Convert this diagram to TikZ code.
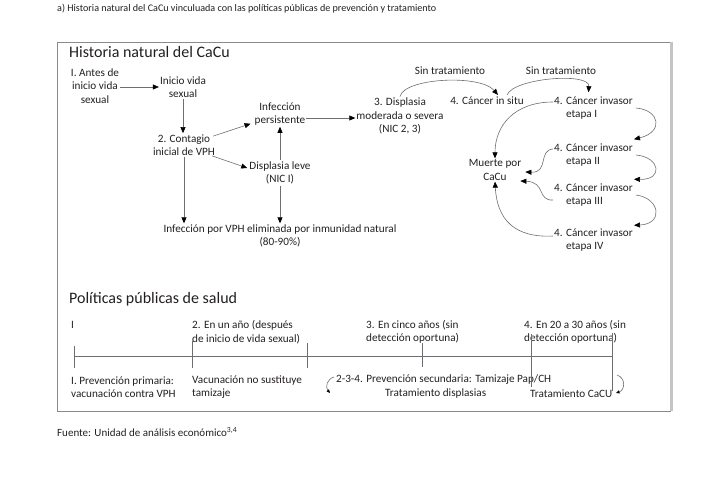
\documentclass[tikz,border=0pt]{standalone}
\usepackage{fontspec}
\setmainfont{Carlito}
\usetikzlibrary{arrows.meta,calc}
\definecolor{lncol}{HTML}{6D6E71}
\definecolor{frcol}{HTML}{8A8A8A}
\definecolor{frscol}{HTML}{C4C4C4}
\definecolor{txcol}{HTML}{231F20}
\begin{document}
\begin{tikzpicture}[x=1pt,y=-1pt,
  txt/.style={font=\fontsize{11.2}{13.6}\selectfont, text=txcol, align=center, inner sep=1pt},
  ltxt/.style={txt, align=left},
  head/.style={font=\fontsize{16}{18}\selectfont, text=txcol, inner sep=0pt, anchor=west},
  arr/.style={draw=lncol, line width=0.6pt, -{Triangle[length=6pt,width=5pt,color=black]}},
  sarr/.style={draw=lncol, line width=0.6pt, -{Triangle[length=3.5pt,width=3pt,color=black]}},
  tline/.style={draw=lncol, line width=0.6pt}]
\useasboundingbox (0,0) rectangle (720,479);

% caption and source
\node[anchor=west, inner sep=0pt, font=\fontsize{10.1}{12}\selectfont, text=txcol] (cap) at (57,9)
  {a) Historia natural del CaCu vinculuada con las políticas públicas de prevención y tratamiento};
\node[anchor=west, inner sep=0pt, font=\fontsize{11}{12}\selectfont, text=txcol] (src) at (57,432)
  {Fuente: Unidad de análisis económico\textsuperscript{3,4}};

% frame
\draw[frcol, line width=0.8pt] (57,42) rectangle (670,411);
\draw[frscol, line width=3pt] (671.5,41.6) -- (671.5,411.4);

% ---------- Historia natural ----------
\node[head] (h1) at (69,52) {Historia natural del CaCu};

\node[txt] (n1) at (95,86) {I. Antes de\\inicio vida\\sexual};
\node[txt] (n2) at (183,87) {Inicio vida\\sexual};
\node[txt] (n3) at (184,145) {2. Contagio\\inicial de VPH};
\node[txt] (n4) at (280,114) {Infección\\persistente};
\node[txt] (n5) at (280,173) {Displasia leve\\(NIC I)};
\node[txt] (n6) at (400,116) {3. Displasia\\moderada o severa\\(NIC 2, 3)};
\node[txt] (n7) at (280,236) {Infección por VPH eliminada por inmunidad natural\\(80-90\%)};
\node[txt] (n8) at (487,101) {4. Cáncer in situ};
\node[txt] (st1) at (450,71) {Sin tratamiento};
\node[txt] (st2) at (561,71) {Sin tratamiento};
\node[ltxt, anchor=west] (e1) at (553,108) {4. Cáncer invasor\\\phantom{4. }etapa I};
\node[ltxt, anchor=west] (e2) at (553,155) {4. Cáncer invasor\\\phantom{4. }etapa II};
\node[ltxt, anchor=west] (e3) at (553,195) {4. Cáncer invasor\\\phantom{4. }etapa III};
\node[ltxt, anchor=west] (e4) at (553,240) {4. Cáncer invasor\\\phantom{4. }etapa IV};
\node[txt] (m) at (495,170) {Muerte por\\CaCu};

\coordinate (n1e) at ($(n1.east)+(0,1)$);
\draw[arr] (n1e) -- (n1e -| n2.west);
\draw[arr] (n2.south) -- (n2.south |- n3.north);
\draw[arr] ($(n3.north east)+(-3,3)$) -- ($(n4.south west)+(-3,-3)$);
\draw[arr] ($(n3.south east)+(-4,-1)$) -- ($(n5.west)+(-1,-5)$);
\draw[arr] (n5.north) -- (n4.south);
\coordinate (n4e) at ($(n4.east)+(0,4)$);
\draw[arr] (n4e) -- (n4e -| n6.west);
\draw[arr] (n3.south) -- (n3.south |- n7.north);
\draw[arr] (n5.south) -- (n5.south |- n7.north);

\draw[arr] (n6.north) .. controls (404,78) and (480,74) .. ($(n8.north)+(11,-1)$);
\draw[arr] ($(n8.north)+(20,-1)$) .. controls (514,78) and (590,72) .. ($(e1.north)+(-5,-3)$);

\draw[arr] ($(e1.west)+(0,-6)$) .. controls (515,102) and (495,125) .. (m.north);
\draw[arr] ($(e2.west)+(0,-6)$) .. controls (538,150) and (549,173) .. ($(m.east)+(3,2)$);
\draw[arr] ($(e3.west)+(0,5)$) .. controls (537,201) and (546,182) .. ($(m.east)+(-2,11)$);
\draw[arr] ($(e4.west)+(0,-4)$) .. controls (515,238) and (497,220) .. (m.south);

\draw[arr] ($(e1.east)+(2,0)$) .. controls (660,110) and (664,132) .. ($(e2.north east)+(0,-3)$);
\draw[arr] ($(e2.east)+(2,0)$) .. controls (660,157) and (664,180) .. ($(e3.north east)+(0,-3)$);
\draw[arr] ($(e3.east)+(2,0)$) .. controls (660,198) and (664,224) .. ($(e4.north east)+(0,-2)$);

% ---------- Políticas públicas ----------
\node[head] (h2) at (69,299) {Políticas públicas de salud};

\node[ltxt, anchor=west] (t1) at (70,325) {I};
\node[ltxt, anchor=west] (t2) at (191,332) {2. En un año (después\\de inicio de vida sexual)};
\node[ltxt, anchor=west] (t3) at (365,332) {3. En cinco años (sin\\detección oportuna)};
\node[ltxt, anchor=west] (t4) at (523,332) {4. En 20 a 30 años (sin\\detección oportuna)};

\node[ltxt, anchor=west] (b1) at (70,387) {I. Prevención primaria:\\vacunación contra VPH};
\node[ltxt, anchor=west] (b2) at (191,387) {Vacunación no sustituye\\tamizaje};
\node[ltxt, anchor=west] (b3) at (335,380) {2-3-4. Prevención secundaria: Tamizaje Pap/CH};
\node[ltxt, anchor=west] (b4) at (384,394) {Tratamiento displasias};
\node[ltxt, anchor=west] (b5) at (529,394) {Tratamiento CaCU};

\draw[tline] (74,356) -- (612,356);
\draw[tline] (74,346) -- (74,368);
\draw[tline] (192,341) -- (192,368);
\draw[tline] (307,343) -- (307,368);
\draw[tline] (422,343) -- (422,367);
\draw[tline] (531,334) -- (531,387);
\draw[tline] (612,333) -- (612,391);

\draw[sarr] (334,377) .. controls (327,379) and (325,387) .. (330,393);
\draw[sarr] (617,375) .. controls (626,378) and (625,390) .. (616,393);
\end{tikzpicture}
\end{document}
